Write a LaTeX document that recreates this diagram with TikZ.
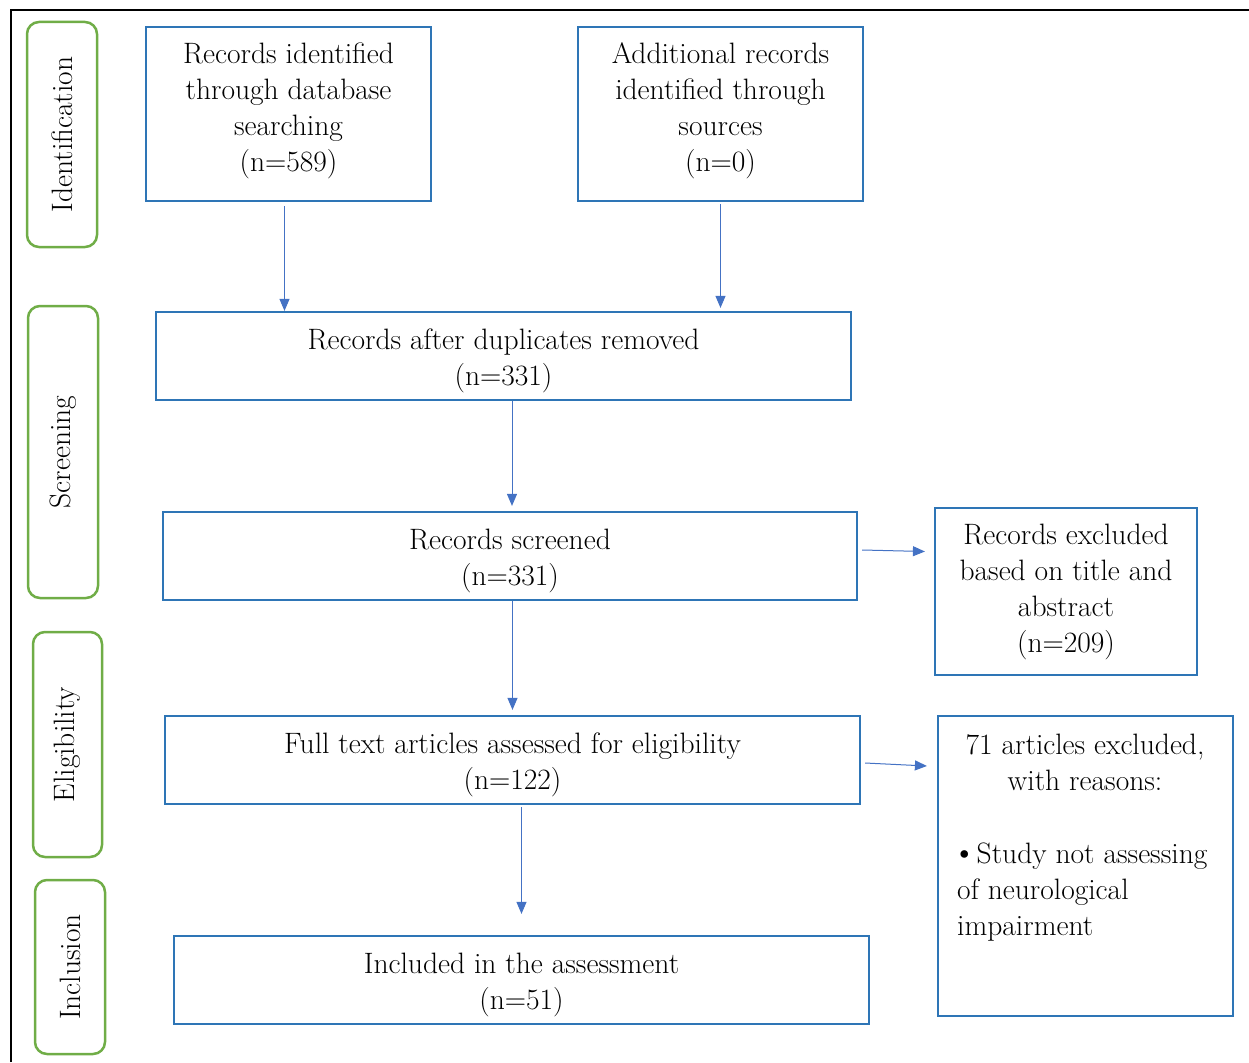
\documentclass[tikz,border=0pt]{standalone}
\usepackage{graphicx}
\usetikzlibrary{arrows.meta}
\definecolor{boxblue}{HTML}{2E75B6}
\definecolor{arrblue}{HTML}{4472C4}
\definecolor{lblgreen}{HTML}{70AD47}
\newcommand\toppad{\rule{0pt}{30pt}}
\newcommand\botpad{\rule[-14pt]{0pt}{1pt}}
\begin{document}
\begin{tikzpicture}[x=1pt,y=-1pt,
  txt/.style={inner sep=0pt,font=\fontsize{29.5}{36}\selectfont},
  box/.style={txt,draw=boxblue,line width=2.2pt,align=center},
  phase/.style={txt,draw=lblgreen,line width=2.5pt,rounded corners=12pt,rotate=90},
  arr/.style={draw=arrblue,line width=1pt,-{Triangle[length=12pt,width=10pt]}}]
\useasboundingbox (0,0) rectangle (1249,1062);
% frame
\draw[line width=2.5pt] (11,1062) -- (11,10) -- (1249,10);
% phases
\node[phase,minimum width=225,minimum height=70] (pid) at (62,134.5) {Identification};
\node[phase,minimum width=292,minimum height=70] (psc) at (63,452) {Screening};
\node[phase,minimum width=225,minimum height=69] (pel) at (67.5,744.5) {Eligibility};
\node[phase,minimum width=174,minimum height=70] (pin) at (70,967) {Inclusion};
% boxes
\node[box,minimum width=285,minimum height=174] (b1) at (288.5,114) {Records identified\\through database\\searching\\(n=589)\botpad};
\node[box,minimum width=285,minimum height=174] (b2) at (720.5,114) {Additional records\\identified through\\sources\\(n=0)\botpad};
\node[box,minimum width=695,minimum height=88] (b3) at (503.5,356) {\toppad Records after duplicates removed\\(n=331)};
\node[box,minimum width=694,minimum height=88] (b4) at (510,556) {\toppad Records screened\\(n=331)};
\node[box,minimum width=262,minimum height=167] (b5) at (1066,591.5) {Records excluded\\based on title and\\abstract\\(n=209)};
\node[box,minimum width=695,minimum height=88] (b6) at (512.5,760) {\toppad Full text articles assessed for eligibility\\(n=122)};
\node[box,minimum width=295,minimum height=300] (b7) at (1085.5,866) {};
\node[txt,align=center,anchor=north] (b7a) at (1085,734) {71 articles excluded,\\with reasons:};
\node[txt,align=left,anchor=north west] (b7b) at (957,843) {\kern-5pt{\fontsize{34}{36}\selectfont\textbullet}Study not assessing\\of neurological\\impairment};
\node[box,minimum width=695,minimum height=88] (b8) at (521.5,980) {\toppad Included in the assessment\\(n=51)};
% arrows
\draw[arr] ([xshift=-4pt,yshift=-4pt]b1.south) -- ([xshift=-4pt]b1.south |- b3.north);
\draw[arr] ([yshift=-2pt]b2.south) -- ([yshift=3pt]b2.south |- b3.north);
\draw[arr] ([xshift=2pt]b4.north |- b3.south) -- ([xshift=2pt,yshift=5pt]b4.north);
\draw[arr] (b4.south -| b6.north) -- ([yshift=5pt]b6.north);
\draw[arr] ([yshift=-2pt]b6.south -| b8.north) -- ([yshift=21pt]b8.north);
\draw[arr] ([shift={(4,-6)}]b4.east) -- ([shift={(-9,-40)}]b5.west);
\draw[arr] ([shift={(4,3)}]b6.east) -- ([shift={(-10,-100)}]b7.west);
\end{tikzpicture}
\end{document}
